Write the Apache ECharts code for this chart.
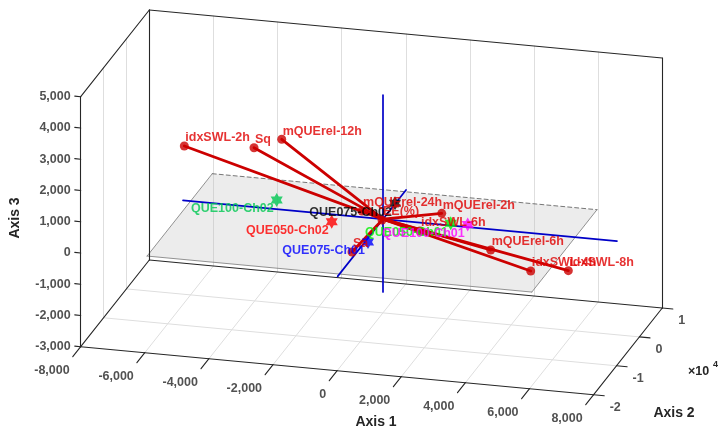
<!DOCTYPE html>
<html><head><meta charset="utf-8">
<script src="https://cdn.jsdelivr.net/npm/echarts@6/dist/echarts.min.js"></script>
<style>html,body{margin:0;padding:0;background:#fff}#c{width:723px;height:435px}</style>
</head><body><div id="c"></div>
<script>
// ---------------- data ----------------
const loadingNames = ['idxSWL-2h','Sq','mQUErel-12h','mQUErel-24h','EE(%)','mQUErel-2h','idxSWL-6h','mQUErel-6h','idxSWL-4h','idxSWL-8h','Sa'];
const loadingAxis1 = [-6195,-4021,-3157,-652,-28,1834,1157,3362,4610,5783,-964];
const loadingAxis2 = [0,0,0,0,0,0,0,0,0,0,0];
const loadingAxis3 = [1746,1900,2252,198,-30,363,-268,-664,-1217,-1094,-1144];

const scoreNames = ['QUE100-Ch02','QUE050-Ch02','QUE075-Ch01','QUE075-Ch02','QUE050-Ch01','QUE100-Ch01'];
const scoreAxis1 = [-3313,-1597,-465,377,2115,2645];
const scoreAxis2 = [0,0,0,0,0,0];
const scoreAxis3 = [295,-235,-776,543,70,83];
const scoreColors = ['#00c853','#ff0000','#0000ff','#000000','#00f000','#ff00ff'];

const axis1Ticks = [-8000,-6000,-4000,-2000,0,2000,4000,6000,8000];
const axis2Ticks = [-20000,-10000,0,10000];
const axis2TickLabels = ['-2','-1','0','1'];
const axis3Ticks = [-3000,-2000,-1000,0,1000,2000,3000,4000,5000];
const axis1Range = [-8000,8000];
const axis2Range = [-20000,10000];
const axis3Range = [-3000,5000];

// blue reference axes through origin
const refAxis1 = [-6235,7300];
const refAxis2 = [-19800,10100];
const refAxis3 = [-2330,3970];
// gray plane
const planeAxis1 = [-6000,6000];
const planeAxis2 = [-19000,9500];
const planeLevel = 0;

// ---------------- view (orthographic projection) ----------------
const view = {ox:80.7, oy:346.7, e1:[0.03206,0.003], e2:[0.002287,-0.00289], e3:[0,-0.03125]};
function P(x1,x2,x3){
  const a=x1-axis1Range[0], b=x2-axis2Range[0], c=x3-axis3Range[0];
  return [view.ox + a*view.e1[0] + b*view.e2[0] + c*view.e3[0],
          view.oy + a*view.e1[1] + b*view.e2[1] + c*view.e3[1]];
}
const seg=(p,q)=>({coords:[P(...p),P(...q)]});
const [X0,X1]=axis1Range,[Y0,Y1]=axis2Range,[Z0,Z1]=axis3Range;

// grid lines
const gridSegs=[];
axis1Ticks.slice(1,-1).forEach(t=>{gridSegs.push(seg([t,Y0,Z0],[t,Y1,Z0])); gridSegs.push(seg([t,Y1,Z0],[t,Y1,Z1]));});
axis2Ticks.slice(1,-1).forEach(t=>{gridSegs.push(seg([X0,t,Z0],[X1,t,Z0])); gridSegs.push(seg([X0,t,Z0],[X0,t,Z1]));});
// box edges
const boxSegs=[
  seg([X0,Y0,Z0],[X0,Y0,Z1]), seg([X0,Y0,Z1],[X0,Y1,Z1]), seg([X0,Y1,Z0],[X0,Y1,Z1]),
  seg([X0,Y1,Z1],[X1,Y1,Z1]), seg([X1,Y1,Z0],[X1,Y1,Z1]),
  seg([X0,Y0,Z0],[X1,Y0,Z0]), seg([X1,Y0,Z0],[X1,Y1,Z0]), seg([X0,Y1,Z0],[X1,Y1,Z0]), seg([X0,Y0,Z0],[X0,Y1,Z0])
];
// ticks
const tickSegs=[];
axis1Ticks.forEach(t=>tickSegs.push(seg([t,Y0,Z0],[t,Y0-3460,Z0])));
axis2Ticks.forEach(t=>tickSegs.push(seg([X1,t,Z0],[X1+330,t,Z0])));
axis3Ticks.forEach(t=>tickSegs.push(seg([X0,Y0,t],[X0-185,Y0,t])));

const blueSegs=[seg([refAxis1[0],0,0],[refAxis1[1],0,0]), seg([0,refAxis2[0],0],[0,refAxis2[1],0]), seg([0,0,refAxis3[0]],[0,0,refAxis3[1]])];
const redSegs=loadingNames.map((n,i)=>seg([0,0,0],[loadingAxis1[i],loadingAxis2[i],loadingAxis3[i]]));

const planeTop=[seg([planeAxis1[0],planeAxis2[1],planeLevel],[planeAxis1[1],planeAxis2[1],planeLevel])];
const planeSides=[seg([planeAxis1[0],planeAxis2[0],planeLevel],[planeAxis1[0],planeAxis2[1],planeLevel]),
  seg([planeAxis1[1],planeAxis2[0],planeLevel],[planeAxis1[1],planeAxis2[1],planeLevel]),
  seg([planeAxis1[0],planeAxis2[0],planeLevel],[planeAxis1[1],planeAxis2[0],planeLevel])];

const hexagram='path://M0,-1 L0.289,-0.5 L0.866,-0.5 L0.577,0 L0.866,0.5 L0.289,0.5 L0,1 L-0.289,0.5 L-0.866,0.5 L-0.577,0 L-0.866,-0.5 L-0.289,-0.5 Z';
const FONT='Liberation Sans';
const fmt=v=>v.toLocaleString('en-US');

const linesSeries=(data,color,width,z,type)=>({type:'lines',coordinateSystem:'cartesian2d',silent:true,z:z,
  data:data,lineStyle:{color:color,width:width,opacity:1,type:type||'solid',cap:'round'},animation:false});

const textSeries=(pts,labels,opt,z)=>({type:'scatter',symbolSize:0,silent:true,z:z,animation:false,
  data:pts.map((p,i)=>({value:p,label:Object.assign({show:true,formatter:labels[i],fontFamily:FONT,fontWeight:'bold'},typeof opt==='function'?opt(i):opt)}))});

const option={
  animation:false,
  grid:{left:0,right:0,top:0,bottom:0},
  xAxis:{type:'value',min:0,max:723,show:false},
  yAxis:{type:'value',min:0,max:435,inverse:true,show:false},
  series:[
    linesSeries(gridSegs,'#dedede',1,1),
    {type:'custom',silent:true,z:2,animation:false,data:[0],
      renderItem:(params,api)=>({type:'polygon',
        shape:{points:[[planeAxis1[0],planeAxis2[0]],[planeAxis1[1],planeAxis2[0]],[planeAxis1[1],planeAxis2[1]],[planeAxis1[0],planeAxis2[1]]].map(c=>api.coord(P(c[0],c[1],planeLevel)))},
        style:{fill:'rgba(185,185,185,0.28)'}})},
    linesSeries(planeTop,'#555',0.8,3,[4,3]),
    linesSeries(planeSides,'#777',0.8,3),
    linesSeries(boxSegs,'#262626',1.1,4),
    linesSeries(tickSegs,'#262626',1.1,4),
    linesSeries(blueSegs,'#0000c8',1.7,5),
    linesSeries(redSegs,'#cc0000',2.8,6),
    {type:'scatter',silent:true,z:7,animation:false,symbol:hexagram,symbolKeepAspect:true,symbolSize:14,
      data:scoreNames.map((n,i)=>({value:P(scoreAxis1[i],scoreAxis2[i],scoreAxis3[i]),itemStyle:{color:scoreColors[i]}}))},
    {type:'scatter',silent:true,z:8,animation:false,symbol:'circle',symbolSize:9,itemStyle:{color:'#cc0000'},
      data:loadingNames.map((n,i)=>P(loadingAxis1[i],loadingAxis2[i],loadingAxis3[i]))},
    textSeries(scoreNames.map((n,i)=>P(scoreAxis1[i],scoreAxis2[i],scoreAxis3[i])),scoreNames,
      i=>({position:[-3,9],align:'right',verticalAlign:'middle',fontSize:12.5,color:scoreColors[i]}),9),
    textSeries(loadingNames.map((n,i)=>P(loadingAxis1[i],loadingAxis2[i],loadingAxis3[i])),loadingNames,
      {position:[1,-8],align:'left',verticalAlign:'middle',fontSize:12.5,color:'#e00000'},10),
    textSeries(axis1Ticks.map(t=>P(t,Y0,Z0)),axis1Ticks.map(fmt),{position:[-11,24],align:'right',verticalAlign:'middle',fontSize:12.5,color:'#262626'},11),
    textSeries(axis2Ticks.map(t=>P(X1,t,Z0)),axis2TickLabels,{position:[16,13],align:'left',verticalAlign:'middle',fontSize:12.5,color:'#262626'},11),
    textSeries(axis3Ticks.map(t=>P(X0,Y0,t)),axis3Ticks.map(fmt),{position:[-10,0],align:'right',verticalAlign:'middle',fontSize:12.5,color:'#262626'},11)
  ],
  graphic:[
    {type:'text',x:376,y:422,style:{text:'Axis 1',font:'bold 14px "Liberation Sans"',fill:'#262626',align:'center',verticalAlign:'middle'}},
    {type:'text',x:674,y:413,style:{text:'Axis 2',font:'bold 14px "Liberation Sans"',fill:'#262626',align:'center',verticalAlign:'middle'}},
    {type:'text',x:15,y:218,rotation:Math.PI/2,style:{text:'Axis 3',font:'bold 14px "Liberation Sans"',fill:'#262626',align:'center',verticalAlign:'middle'}},
    {type:'text',x:688,y:372,style:{text:'×10',font:'bold 12.5px "Liberation Sans"',fill:'#262626',align:'left',verticalAlign:'middle'}},
    {type:'text',x:713,y:365,style:{text:'4',font:'bold 9px "Liberation Sans"',fill:'#262626',align:'left',verticalAlign:'middle'}}
  ]
};
const chart=echarts.init(document.getElementById('c'),null,{renderer:'canvas'});
chart.setOption(option);
</script></body></html>
